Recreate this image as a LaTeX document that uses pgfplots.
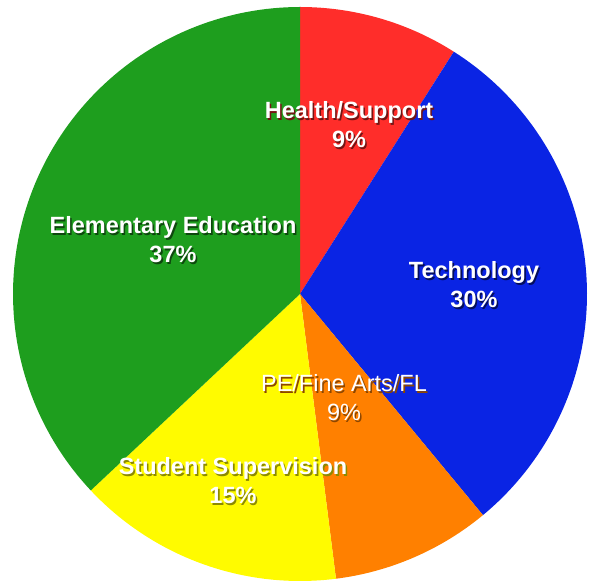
\documentclass[border=0pt]{standalone}
\usepackage{pgfplots}
\usepackage{pgfplotstable}
\pgfplotsset{compat=1.18}
\usepackage{fontspec}
\setmainfont{Liberation Sans}
\definecolor{cRed}{HTML}{FF2D2A}
\definecolor{cBlue}{HTML}{0A24E4}
\definecolor{cOrange}{HTML}{FF8000}
\definecolor{cYellow}{HTML}{FFFB00}
\definecolor{cGreen}{HTML}{1E9E1E}
% slices in clockwise order from 12 o'clock: percent
\pgfplotstableread{
label percent
Health 9
Technology 30
PE 9
Student 15
Elementary 37
}\piedata
% text with a soft drop shadow in a single box
\newcommand{\sh}[2]{\leavevmode\rlap{\hspace{1.6pt}\raisebox{-1.8pt}{\textcolor{#1}{#2}}}\textcolor{white}{#2}}
\newcommand{\lbl}[5]{% pos, line1, line2, shadow colour, font
  \node[align=center, inner sep=0pt, font=#5] at (axis cs:#1) {\sh{#4}{#2}\\\sh{#4}{#3}};
}
\begin{document}
\begin{tikzpicture}
\begin{axis}[
  width=593pt, height=582pt, scale only axis,
  hide axis,
  xmin=-300/287, xmax=293/287,
  ymin=-288/287, ymax=294/287,
  clip=false,
]
\path (rel axis cs:0,0) rectangle (rel axis cs:1,1);
% cumulative angles (clockwise from 90 deg), 3.6 deg per percent
\pgfmathsetmacro{\aA}{90}
\pgfmathsetmacro{\aB}{90-3.6*9}
\pgfmathsetmacro{\aC}{\aB-3.6*30}
\pgfmathsetmacro{\aD}{\aC-3.6*9}
\pgfmathsetmacro{\aE}{\aD-3.6*15}
\pgfmathsetmacro{\aF}{\aE-3.6*37}
\addplot[draw=none, fill=cRed, domain=\aB:\aA, samples=40] ({cos(x)},{sin(x)}) -- (axis cs:0,0) -- cycle;
\addplot[draw=none, fill=cBlue, domain=\aC:\aB, samples=80] ({cos(x)},{sin(x)}) -- (axis cs:0,0) -- cycle;
\addplot[draw=none, fill=cOrange, domain=\aD:\aC, samples=40] ({cos(x)},{sin(x)}) -- (axis cs:0,0) -- cycle;
\addplot[draw=none, fill=cYellow, domain=\aE:\aD, samples=50] ({cos(x)},{sin(x)}) -- (axis cs:0,0) -- cycle;
\addplot[draw=none, fill=cGreen, domain=\aF:\aE, samples=100] ({cos(x)},{sin(x)}) -- (axis cs:0,0) -- cycle;
% labels (pixel positions converted: x=(px-300)/287, y=(294-py)/287)
\lbl{49/287,168/287}{Health/Support}{9\%}{black!55!cRed}{\bfseries\fontsize{23.5pt}{29pt}\selectfont}
\lbl{174/287,8/287}{Technology}{30\%}{black!60!cBlue}{\bfseries\fontsize{23.5pt}{29pt}\selectfont}
\lbl{44/287,-105/287}{PE/Fine Arts/FL}{9\%}{black!45!cOrange}{\fontsize{23.5pt}{29pt}\selectfont}
\lbl{-67/287,-188/287}{Student Supervision}{15\%}{black!45!cYellow}{\bfseries\fontsize{23.5pt}{29pt}\selectfont}
\lbl{-127/287,53/287}{Elementary Education}{37\%}{black!55!cGreen}{\bfseries\fontsize{23.5pt}{29pt}\selectfont}
\end{axis}
\end{tikzpicture}
\end{document}
